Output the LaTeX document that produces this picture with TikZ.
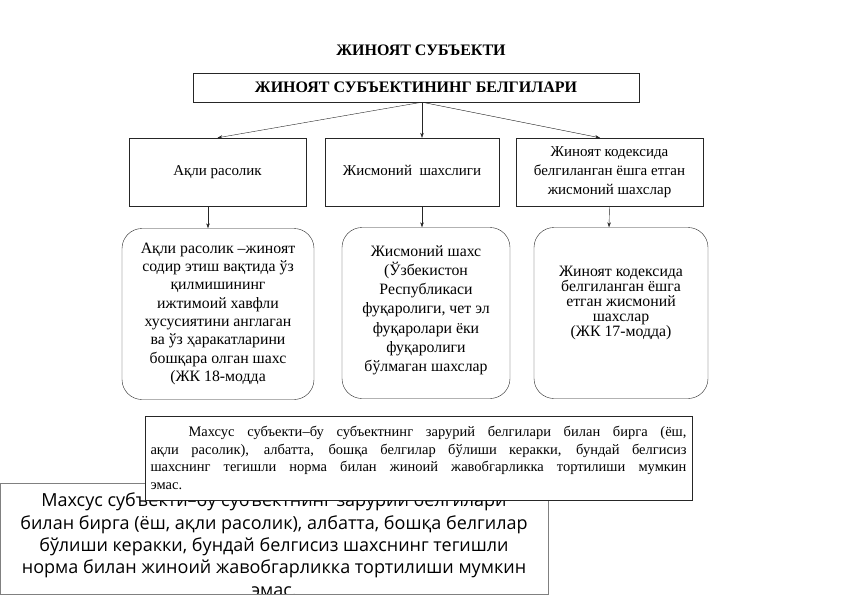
\documentclass[tikz,border=0pt]{standalone}
\usepackage{fontspec}
\setmainfont{Liberation Serif}
\newfontfamily\overlayfont{Open Sans}
\usetikzlibrary{positioning}
\usetikzlibrary{arrows.meta}

\begin{document}
\begin{tikzpicture}[x=1pt, y=-1pt,
titlenode/.style={inner sep=0pt, font=\fontsize{16}{18}\selectfont\bfseries},
headnode/.style={rectangle, draw=black!85, minimum width=446pt, minimum height=29pt, font=\fontsize{16}{18}\selectfont\bfseries},
signnode/.style={rectangle, draw=black!85, minimum height=68pt, align=center, font=\fontsize{15}{19}\selectfont},
infonode/.style={rectangle, draw=black!85, rounded corners=20pt, minimum height=171pt, align=center, font=\fontsize{15.8}{18.3}\selectfont},
notenode/.style={rectangle, draw=black!85, fill=white, minimum height=84pt, inner xsep=5.5pt, text width=536pt, align=justify, font=\fontsize{14.5}{17.7}\selectfont},
overlaybox/.style={draw=black!50, fill=white, line width=1pt},
arrowline/.style={-{Stealth[length=5pt,width=3.5pt]}, black!85},
]
\useasboundingbox (0,0) rectangle (842,596);

%Nodes
\node[titlenode]	(title)		at (421,50)		{ЖИНОЯТ СУБЪЕКТИ};
\node[headnode]		(head)		at (416,87.5)	{ЖИНОЯТ СУБЪЕКТИНИНГ БЕЛГИЛАРИ};
\node[signnode, minimum width=177pt, text height=11pt, text depth=4pt]	(mind)		at (217.5,172)	{Ақли расолик};
\node[signnode, minimum width=174pt, text height=11pt, text depth=4pt]	(person)	at (412,172)	{Жисмоний\ \ шахслиги};
\node[signnode, minimum width=187pt]	(age)		at (609.5,172)	{Жиноят кодексида\\белгиланган ёшга етган\\жисмоний шахслар};
\node[infonode, minimum width=192pt]	(mindinfo)	at (218,314)	{\mbox{}\\[-8.3pt]Ақли расолик –жиноят\\содир этиш вақтида ўз\\қилмишининг\\ижтимоий хавфли\\хусусиятини англаган\\ва ўз ҳаракатларини\\бошқара олган шахс\\(ЖК 18-модда};
\node[infonode, minimum width=168pt, font=\fontsize{15.8}{19.2}\selectfont]	(personinfo)	at (426,313)	{Жисмоний шахс\\(Ўзбекистон\\Республикаси\\фуқаролиги, чет эл\\фуқаролари ёки\\фуқаролиги\\бўлмаган шахслар\\[-10pt]\mbox{}};
\node[infonode, minimum width=174pt, font=\fontsize{15.8}{15}\selectfont]	(ageinfo)	at (621,313)	{Жиноят кодексида\\белгиланган ёшга\\етган жисмоний\\шахслар\\(ЖК 17-модда)\\[9pt]\mbox{}};

%Overlay
\draw[overlaybox] (0,483) rectangle (548,594);
\begin{scope}
\clip (0,483) rectangle (548,593);
\node[anchor=north, align=center, inner sep=0pt, font=\overlayfont\fontsize{18}{22.3}\selectfont] (overlay) at (274,493) {Махсус субъекти–бу субъектнинг зарурий белгилари\\билан бирга (ёш, ақли расолик), албатта, бошқа белгилар\\бўлиши керакки, бундай белгисиз шахснинг тегишли\\норма билан жиноий жавобгарликка тортилиши мумкин\\эмас.};
\end{scope}
\node[notenode]		(note)		at (418.5,458)	{\hspace*{38pt}Махсус субъекти–бу субъектнинг зарурий белгилари билан бирга (ёш,\linebreak ақли расолик), албатта, бошқа белгилар бўлиши керакки, бундай белгисиз\linebreak шахснинг тегишли норма билан жиноий жавобгарликка тортилиши мумкин\linebreak эмас.};

%Lines
\draw[arrowline] ([xshift=6pt]head.south) -- (mind.north);
\draw[arrowline] ([xshift=6pt]head.south) -- ([xshift=10pt]person.north);
\draw[arrowline] ([xshift=6pt]head.south) -- ([xshift=-9.5pt]age.north);
\draw[arrowline] ([xshift=-9.5pt]mind.south) -- ([xshift=-10pt]mindinfo.north);
\draw[arrowline] ([xshift=10pt]person.south) -- ([xshift=-4pt]personinfo.north);
\draw[arrowline] (age.south) -- ([xshift=-12pt]ageinfo.north);
\end{tikzpicture}
\end{document}
